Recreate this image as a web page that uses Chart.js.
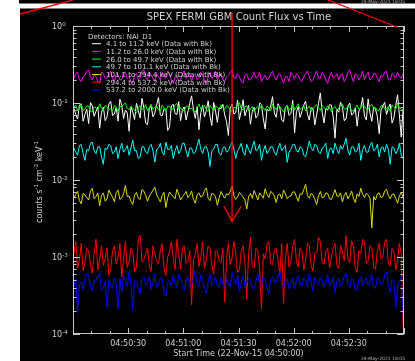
<!DOCTYPE html>
<html>
<head>
<meta charset="utf-8">
<script src="https://cdn.jsdelivr.net/npm/chart.js@4/dist/chart.umd.min.js"></script>
<style>
  html, body { margin: 0; padding: 0; background: #fff; }
  canvas { display: block; }
</style>
</head>
<body>
<canvas id="chart" width="415" height="361"></canvas>
<script>
// count flux, counts s^-1 cm^-2 keV^-1, 1 s bins from 04:50:00
const binSeconds = 1;

const white = [
  0.085,0.071,0.062,0.094,0.098,0.058,0.071,0.083,0.054,0.101,0.092,0.067,0.078,0.089,0.047,0.076,0.088,0.059,0.066,0.097,
  0.105,0.069,0.072,0.088,0.058,0.112,0.094,0.063,0.081,0.074,0.043,0.090,0.076,0.061,0.099,0.080,0.064,0.115,0.087,0.055,
  0.052,0.086,0.091,0.066,0.074,0.095,0.118,0.070,0.068,0.084,0.083,0.044,0.049,0.092,0.096,0.073,0.071,0.104,0.059,0.081,
  0.089,0.060,0.077,0.099,0.124,0.082,0.063,0.090,0.045,0.075,0.093,0.066,0.080,0.107,0.067,0.051,0.102,0.079,0.056,0.087,
  0.084,0.096,0.070,0.057,0.038,0.085,0.097,0.072,0.075,0.109,0.061,0.080,0.110,0.068,0.082,0.093,0.053,0.078,0.088,0.064,
  0.069,0.100,0.095,0.062,0.046,0.083,0.079,0.091,0.121,0.074,0.065,0.098,0.086,0.060,0.057,0.089,0.092,0.069,0.073,0.108,
  0.041,0.077,0.090,0.065,0.078,0.094,0.106,0.071,0.060,0.087,0.085,0.052,0.070,0.099,0.135,0.076,0.055,0.084,0.081,0.095,
  0.094,0.066,0.035,0.082,0.076,0.103,0.088,0.059,0.062,0.091,0.100,0.070,0.073,0.086,0.050,0.079,0.087,0.118,0.068,0.060,
  0.113,0.074,0.058,0.089,0.083,0.067,0.040,0.081,0.092,0.102,0.071,0.086,0.097,0.055,0.064,0.093,0.128,0.070,0.036,0.084
];
const magenta = [
  0.21,0.24,0.25,0.20,0.19,0.22,0.23,0.26,0.27,0.22,0.20,0.23,0.22,0.19,0.18,0.25,0.24,0.21,0.21,0.23,
  0.26,0.21,0.19,0.24,0.23,0.20,0.20,0.25,0.25,0.21,0.22,0.19,0.18,0.23,0.24,0.20,0.21,0.26,0.27,0.22,
  0.20,0.25,0.23,0.21,0.19,0.24,0.22,0.20,0.25,0.22,0.21,0.26,0.24,0.20,0.18,0.22,0.23,0.19,0.20,0.24,
  0.26,0.21,0.22,0.24,0.19,0.23,0.24,0.20,0.21,0.25,0.23,0.19,0.18,0.22,0.25,0.21,0.22,0.26,0.20,0.23,
  0.24,0.20,0.19,0.22,0.23,0.25,0.27,0.21,0.21,0.24,0.22,0.19,0.18,0.23,0.24,0.20,0.20,0.22,0.25,0.21,
  0.22,0.25,0.19,0.21,0.23,0.20,0.21,0.24,0.26,0.22,0.20,0.23,0.24,0.21,0.18,0.22,0.22,0.19,0.25,0.23,
  0.21,0.24,0.23,0.20,0.19,0.22,0.24,0.26,0.22,0.19,0.20,0.23,0.26,0.21,0.21,0.25,0.23,0.20,0.18,0.22,
  0.25,0.21,0.22,0.24,0.20,0.23,0.24,0.19,0.21,0.25,0.27,0.22,0.19,0.24,0.23,0.20,0.22,0.26,0.20,0.23,
  0.25,0.20,0.21,0.24,0.24,0.21,0.19,0.23,0.22,0.25,0.26,0.20,0.20,0.24,0.23,0.21,0.25,0.22,0.21,0.24
];
const green = [
  0.088,0.094,0.079,0.085,0.095,0.080,0.083,0.092,0.091,0.078,0.076,0.089,0.087,0.081,0.098,0.086,0.081,0.093,0.090,0.082,
  0.084,0.079,0.093,0.088,0.077,0.091,0.089,0.096,0.100,0.085,0.082,0.090,0.086,0.080,0.075,0.087,0.092,0.083,0.085,0.095,
  0.079,0.088,0.096,0.083,0.088,0.092,0.081,0.077,0.094,0.086,0.078,0.091,0.090,0.084,0.083,0.095,0.099,0.082,0.087,0.080,
  0.080,0.090,0.092,0.084,0.085,0.079,0.076,0.087,0.097,0.083,0.089,0.094,0.082,0.078,0.093,0.086,0.079,0.091,0.088,0.083,
  0.095,0.087,0.083,0.092,0.090,0.081,0.078,0.088,0.086,0.094,0.101,0.084,0.081,0.089,0.092,0.079,0.084,0.090,0.077,0.086,
  0.089,0.083,0.094,0.086,0.080,0.091,0.087,0.079,0.096,0.088,0.082,0.093,0.090,0.084,0.076,0.087,0.093,0.081,0.085,0.097,
  0.081,0.089,0.098,0.083,0.086,0.092,0.079,0.085,0.091,0.078,0.084,0.090,0.095,0.087,0.080,0.093,0.088,0.082,0.092,0.086,
  0.077,0.086,0.090,0.081,0.085,0.093,0.097,0.084,0.083,0.090,0.088,0.079,0.079,0.087,0.094,0.082,0.086,0.095,0.091,0.083,
  0.082,0.091,0.096,0.085,0.087,0.079,0.080,0.092,0.093,0.084,0.085,0.089,0.078,0.094,0.090,0.083,0.099,0.087,0.084,0.079
];
const cyan = [
  0.026,0.023,0.021,0.028,0.029,0.022,0.018,0.025,0.024,0.030,0.031,0.024,0.022,0.027,0.027,0.020,0.016,0.026,0.025,0.029,
  0.028,0.022,0.023,0.027,0.019,0.025,0.030,0.023,0.025,0.028,0.021,0.026,0.033,0.024,0.024,0.019,0.020,0.027,0.027,0.023,
  0.022,0.027,0.029,0.024,0.017,0.025,0.026,0.030,0.023,0.021,0.031,0.025,0.025,0.028,0.019,0.024,0.028,0.022,0.024,0.030,
  0.030,0.024,0.020,0.026,0.026,0.022,0.023,0.028,0.034,0.025,0.022,0.027,0.027,0.023,0.015,0.024,0.025,0.029,0.029,0.022,
  0.021,0.026,0.027,0.023,0.024,0.028,0.031,0.025,0.019,0.024,0.026,0.030,0.023,0.021,0.029,0.025,0.022,0.027,0.032,0.024,
  0.025,0.029,0.018,0.024,0.028,0.022,0.024,0.027,0.027,0.023,0.021,0.026,0.030,0.024,0.026,0.028,0.017,0.023,0.025,0.029,
  0.029,0.024,0.023,0.027,0.026,0.021,0.020,0.025,0.032,0.026,0.024,0.029,0.028,0.023,0.022,0.026,0.027,0.030,0.019,0.025,
  0.026,0.022,0.030,0.025,0.022,0.028,0.025,0.029,0.035,0.024,0.021,0.027,0.027,0.023,0.024,0.030,0.018,0.025,0.028,0.023,
  0.023,0.028,0.031,0.024,0.025,0.029,0.020,0.026,0.027,0.023,0.029,0.025,0.016,0.027,0.026,0.022,0.024,0.030,0.021,0.019
];
const yellow = [
  0.0058,0.0065,0.0071,0.0054,0.0049,0.0067,0.0064,0.0059,0.0055,0.0072,0.0078,0.0057,0.0061,0.0068,0.0046,0.0063,0.0068,0.0053,0.0057,0.0074,
  0.0066,0.0060,0.0052,0.0069,0.0074,0.0056,0.0059,0.0066,0.0085,0.0061,0.0062,0.0053,0.0048,0.0064,0.0069,0.0058,0.0056,0.0075,0.0072,0.0063,
  0.0053,0.0062,0.0067,0.0074,0.0081,0.0064,0.0058,0.0052,0.0063,0.0069,0.0044,0.0059,0.0070,0.0065,0.0061,0.0057,0.0076,0.0066,0.0055,0.0061,
  0.0065,0.0071,0.0059,0.0063,0.0072,0.0056,0.0050,0.0064,0.0068,0.0060,0.0062,0.0073,0.0079,0.0058,0.0054,0.0067,0.0066,0.0061,0.0047,0.0059,
  0.0071,0.0063,0.0058,0.0066,0.0064,0.0071,0.0083,0.0062,0.0056,0.0060,0.0069,0.0065,0.0060,0.0055,0.0042,0.0061,0.0067,0.0058,0.0073,0.0064,
  0.0055,0.0068,0.0063,0.0058,0.0077,0.0065,0.0059,0.0071,0.0068,0.0062,0.0051,0.0064,0.0066,0.0057,0.0074,0.0066,0.0057,0.0061,0.0062,0.0070,
  0.0070,0.0061,0.0053,0.0066,0.0065,0.0075,0.0088,0.0063,0.0058,0.0067,0.0064,0.0056,0.0048,0.0062,0.0071,0.0059,0.0060,0.0068,0.0067,0.0057,
  0.0056,0.0064,0.0075,0.0062,0.0061,0.0068,0.0052,0.0063,0.0069,0.0057,0.0063,0.0072,0.0058,0.0051,0.0066,0.0061,0.0078,0.0065,0.0059,0.0067,
  0.0064,0.0058,0.0024,0.0061,0.0055,0.0066,0.0068,0.0059,0.0061,0.0072,0.0076,0.0063,0.0057,0.0065,0.0066,0.0058,0.0050,0.0062,0.0069,0.0060
];
const red = [
  0.0011,0.0016,0.00072,0.0009,0.0015,0.00066,0.00085,0.0013,0.0012,0.00079,0.00062,0.0011,0.0017,0.00068,0.00094,0.0014,0.00078,0.00095,0.0013,0.00058,
  0.00068,0.0012,0.0014,0.00081,0.0010,0.0015,0.00055,0.00097,0.0016,0.00073,0.00088,0.0013,0.0012,0.00064,0.00074,0.0017,0.0019,0.00086,0.00092,0.0011,
  0.0013,0.00077,0.00065,0.0014,0.0011,0.00089,0.00082,0.0012,0.0015,0.00071,0.00058,0.0010,0.0012,0.0016,0.00096,0.00069,0.0017,0.0011,0.00070,0.0013,
  0.0014,0.00083,0.00087,0.0012,0.00024,0.00092,0.0011,0.0015,0.00076,0.00099,0.0016,0.00071,0.00093,0.0014,0.0013,0.00078,0.00061,0.0012,0.0012,0.00088,
  0.00083,0.0013,0.00026,0.00094,0.0015,0.00079,0.00098,0.0016,0.0011,0.00063,0.00067,0.0012,0.0014,0.00085,0.00028,0.0011,0.0018,0.00075,0.00072,0.0013,
  0.0012,0.00069,0.00021,0.0011,0.00095,0.0014,0.0016,0.00082,0.00079,0.0012,0.0013,0.00091,0.00059,0.0015,0.00025,0.00097,0.0015,0.00074,0.00086,0.0014,
  0.0017,0.00088,0.00074,0.0013,0.0012,0.00068,0.00092,0.0015,0.0014,0.00077,0.00066,0.0011,0.0011,0.0018,0.0016,0.00084,0.00081,0.0012,0.0013,0.00073,
  0.00097,0.0013,0.0015,0.00079,0.00071,0.0014,0.0012,0.00089,0.0019,0.00093,0.00084,0.0016,0.0014,0.00072,0.00063,0.0012,0.0011,0.0017,0.0016,0.00082,
  0.00088,0.0014,0.0013,0.00075,0.00069,0.0012,0.0015,0.00094,0.0010,0.0016,0.0017,0.00081,0.00076,0.0013,0.0012,0.00068,0.00091,0.0015,0.0011,0.00013
];
const blue = [
  0.00041,0.00053,0.00019,0.00044,0.00047,0.00038,0.00052,0.00061,0.00058,0.00042,0.00036,0.00050,0.00049,0.00055,0.00062,0.00037,0.00039,0.00048,0.00022,0.00051,
  0.00044,0.00039,0.00054,0.00046,0.00021,0.00052,0.00035,0.00057,0.00050,0.00041,0.00064,0.00045,0.00020,0.00049,0.00048,0.00038,0.00033,0.00052,0.00055,0.00043,
  0.00046,0.00056,0.00038,0.00047,0.00061,0.00040,0.00043,0.00054,0.00052,0.00036,0.00031,0.00048,0.00049,0.00042,0.00058,0.00045,0.00040,0.00059,0.00053,0.00044,
  0.00037,0.00050,0.00056,0.00041,0.00045,0.00053,0.00066,0.00044,0.00041,0.00058,0.00050,0.00039,0.00034,0.00048,0.00059,0.00043,0.00047,0.00055,0.00042,0.00040,
  0.00054,0.00045,0.00039,0.00052,0.00048,0.00041,0.00063,0.00050,0.00044,0.00058,0.00035,0.00047,0.00057,0.00042,0.00046,0.00053,0.00051,0.00040,0.00038,0.00049,
  0.00060,0.00044,0.00043,0.00056,0.00049,0.00040,0.00033,0.00051,0.00055,0.00046,0.00047,0.00058,0.00065,0.00043,0.00040,0.00052,0.00052,0.00039,0.00045,0.00054,
  0.00038,0.00049,0.00057,0.00044,0.00042,0.00053,0.00050,0.00041,0.00061,0.00047,0.00036,0.00055,0.00048,0.00043,0.00054,0.00050,0.00041,0.00046,0.00059,0.00042,
  0.00046,0.00055,0.00034,0.00049,0.00053,0.00042,0.00044,0.00057,0.00062,0.00045,0.00040,0.00052,0.00051,0.00038,0.00037,0.00050,0.00056,0.00043,0.00048,0.00053,
  0.00043,0.00050,0.00058,0.00041,0.00039,0.00054,0.00052,0.00044,0.00045,0.00059,0.00064,0.00042,0.00035,0.00051,0.00049,0.00022,0.00042,0.00047,0.00055,0.00018
];

const bands = ['4.1 to 11.2 keV', '11.2 to 26.0 keV', '26.0 to 49.7 keV', '49.7 to 101.1 keV',
               '101.1 to 294.4 keV', '294.4 to 537.2 keV', '537.2 to 2000.0 keV'];
const series = [white, magenta, green, cyan, yellow, red, blue];
const colors = ['#ffffff', '#ff00ff', '#00ff00', '#00ffff', '#dcdc00', '#ff0000', '#0000ff'];

const xTickSeconds = [30, 60, 90, 120, 150];
const xTickLabels = ['04:50:30', '04:51:00', '04:51:30', '04:52:00', '04:52:30'];
const yTickValues = [1e-4, 1e-3, 1e-2, 1e-1, 1];
const yTickExps = ['-4', '-3', '-2', '-1', '0'];

const markerSeconds = 86.5;   // red arrow
const markerTip = 0.0029;

const fg = '#d2d2d2';
const font = px => px + 'px "DejaVu Sans"';

const datasets = series.map((vals, i) => ({
  label: bands[i] + ' (Data with Bk)',
  data: vals.map((v, k) => ({ x: (k + 0.5) * binSeconds, y: v })),
  borderColor: colors[i],
  borderWidth: 1,
  pointRadius: 0,
  tension: 0,
  order: series.length - i
}));

function line(c, x1, y1, x2, y2) {
  c.beginPath(); c.moveTo(x1, y1); c.lineTo(x2, y2); c.stroke();
}

const spexFrame = {
  id: 'spexFrame',
  beforeDraw(chart) {
    const c = chart.ctx;
    c.save();
    c.fillStyle = '#fff';
    c.fillRect(0, 0, chart.width, chart.height);
    c.fillStyle = '#000';
    c.fillRect(19, 0, 396, 3.5);
    c.fillRect(20, 8.5, 395, 353);
    c.restore();
  },
  afterDatasetsDraw(chart) {
    const c = chart.ctx;
    const a = chart.chartArea;
    const xs = chart.scales.x, ys = chart.scales.y;
    c.save();
    c.strokeStyle = '#c8c8c8';
    c.lineWidth = 1;
    c.strokeRect(a.left + 0.5, a.top + 0.5, a.right - a.left - 1, a.bottom - a.top - 1);

    // inward ticks
    for (let s = xs.min; s <= xs.max; s += 10) {
      const px = Math.round(xs.getPixelForValue(s)) + 0.5;
      const len = s % 30 === 0 ? 6 : 3;
      line(c, px, a.bottom, px, a.bottom - len);
      line(c, px, a.top, px, a.top + len);
    }
    for (let d = -4; d <= 0; d++) {
      for (let m = 1; m <= 9; m++) {
        const v = m * Math.pow(10, d);
        if (v > 1.0001) break;
        const py = Math.round(ys.getPixelForValue(v)) + 0.5;
        const len = m === 1 ? 7 : 3.5;
        line(c, a.left, py, a.left + len, py);
        line(c, a.right, py, a.right - len, py);
      }
    }

    // tick labels
    c.fillStyle = fg;
    c.textBaseline = 'alphabetic';
    c.font = font(8);
    c.textAlign = 'center';
    xTickSeconds.forEach((s, i) => c.fillText(xTickLabels[i], xs.getPixelForValue(s), a.bottom + 12));
    c.textAlign = 'left';
    yTickValues.forEach((v, i) => {
      const py = ys.getPixelForValue(v);
      c.font = font(8);
      c.fillText('10', 52, py + 3);
      c.font = font(5.5);
      c.fillText(yTickExps[i], 62.3, py - 0.3);
    });

    // titles
    c.textAlign = 'center';
    c.font = font(10);
    c.fillText('SPEX FERMI GBM Count Flux vs Time', 239, 19.5);
    c.font = font(8);
    c.fillText('Start Time (22-Nov-15 04:50:00)', 238.5, 356);

    // y title with superscripts
    const parts = [['counts s', 0], ['-1', 1], [' cm', 0], ['-2', 1], [' keV', 0], ['-1', 1]];
    c.save();
    c.translate(39, 182);
    c.rotate(-Math.PI / 2);
    c.textAlign = 'left';
    let w = 0;
    parts.forEach(([t, sup]) => { c.font = font(sup ? 5.5 : 8); w += c.measureText(t).width; });
    let x0 = -w / 2;
    parts.forEach(([t, sup]) => {
      c.font = font(sup ? 5.5 : 8);
      c.fillText(t, x0, sup ? -1.2 : 3);
      x0 += c.measureText(t).width;
    });
    c.restore();

    // legend
    c.textAlign = 'left';
    c.font = font(7);
    c.fillText('Detectors: NAI_D1', 88, 38.5);
    chart.data.datasets.forEach((ds, i) => {
      const by = 38.5 + 7.7 * (i + 1);
      c.strokeStyle = ds.borderColor;
      line(c, 92, by - 2.5, 101, by - 2.5);
      c.fillStyle = fg;
      c.fillText(ds.label, 106, by);
    });

    // date stamps
    c.font = font(4.5);
    c.fillStyle = '#bbb';
    c.fillText('24-May-2021 18:05', 361, 3);
    c.fillText('24-May-2021 18:05', 361, 360);

    // red annotation arrow
    c.strokeStyle = '#ff0000';
    c.lineWidth = 1.3;
    const mx = xs.getPixelForValue(markerSeconds);
    const my = ys.getPixelForValue(markerTip);
    line(c, mx, a.top - 13, mx, my);
    c.beginPath();
    c.moveTo(mx - 8, my - 15); c.lineTo(mx, my); c.lineTo(mx + 9, my - 15);
    c.stroke();
    line(c, 73, 0, 20, 14);
    line(c, 328, 0, 397, 27);
    c.restore();
  }
};

new Chart(document.getElementById('chart'), {
  type: 'line',
  data: { datasets },
  options: {
    responsive: false,
    animation: false,
    layout: { padding: { left: 0, right: 11, top: 26, bottom: 0 } },
    plugins: { legend: { display: false }, title: { display: false }, tooltip: { enabled: false } },
    scales: {
      x: {
        type: 'linear', min: 0, max: 180,
        grid: { display: false }, border: { display: false },
        ticks: { display: false },
        afterFit: s => { s.height = 27; }
      },
      y: {
        type: 'logarithmic', min: 1e-4, max: 1,
        grid: { display: false }, border: { display: false },
        ticks: { display: false },
        afterFit: s => { s.width = 73; }
      }
    }
  },
  plugins: [spexFrame]
});
</script>
</body>
</html>
